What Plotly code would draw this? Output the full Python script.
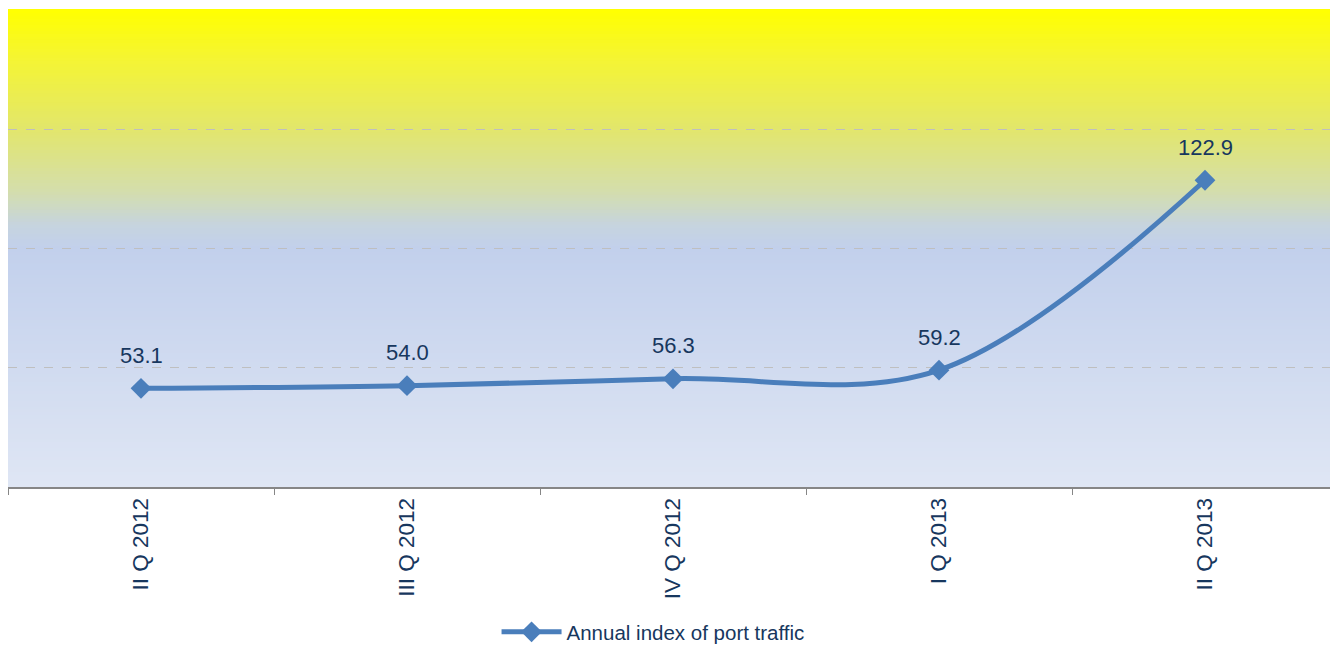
import plotly.graph_objects as go

categories = ["II Q 2012", "III Q 2012", "IV Q 2012", "I Q 2013", "II Q 2013"]
values = [53.1, 54.0, 56.3, 59.2, 122.9]
series_name = "Annual index of port traffic"

LINE = "#4A7EBB"
TEXT = "#17375E"
FONT = "Liberation Sans, Arial"

# background gradient stops (fraction of plot height from bottom, rgb)
stops = [
    (0.00, (223, 230, 244)),
    (0.50, (194, 208, 236)),
    (0.55, (198, 212, 222)),
    (0.62, (212, 222, 172)),
    (0.75, (226, 230, 108)),
    (0.90, (245, 245, 50)),
    (1.00, (255, 255, 0)),
]

def interp(f):
    for (a, ca), (b, cb) in zip(stops[:-1], stops[1:]):
        if a <= f <= b:
            t = (f - a) / (b - a) if b > a else 0
            return tuple(round(ca[i] + (cb[i] - ca[i]) * t) for i in range(3))
    return stops[-1][1]

shapes = []
n = 160
for i in range(n):
    y0 = i / n
    y1 = (i + 1) / n
    c = interp((y0 + y1) / 2)
    shapes.append(dict(type="rect", xref="paper", yref="paper", x0=0, x1=1,
                       y0=y0, y1=y1 + 0.002, fillcolor=f"rgb{c}",
                       line=dict(width=0), layer="below"))

fig = go.Figure()
fig.add_trace(go.Scatter(
    x=categories, y=values, name=series_name,
    mode="lines+markers",
    line=dict(color=LINE, width=5, shape="spline", smoothing=1.0),
    marker=dict(symbol="diamond", size=16, color=LINE),
))

annotations = []
for c, v in zip(categories, values):
    annotations.append(dict(x=c, y=v, text=f"{v:.1f}", showarrow=False,
                            yshift=33, font=dict(family=FONT, size=22, color=TEXT)))

fig.update_layout(
    width=1330, height=638,
    margin=dict(l=0, r=0, t=2, b=159, pad=0, autoexpand=False),
    paper_bgcolor="white",
    plot_bgcolor="rgba(0,0,0,0)",
    shapes=shapes,
    annotations=annotations,
    showlegend=True,
    legend=dict(orientation="h", xref="container", yref="container",
                x=0.485, xanchor="center", y=0.022, yanchor="middle",
                font=dict(family=FONT, size=20.5, color=TEXT), itemwidth=60),
    xaxis=dict(
        type="category", tickson="boundaries", ticks="outside", ticklen=6,
        tickcolor="#868686", showline=True, linecolor="#868686", linewidth=2,
        showgrid=False, tickangle=-90, automargin=False,
        tickfont=dict(family=FONT, size=22.5, color=TEXT),
        range=[-0.5, 4.5],
    ),
    yaxis=dict(
        range=[20, 180], tick0=20, dtick=40, showticklabels=False, showgrid=True,
        gridcolor="#BFBFBF", griddash="dash", gridwidth=1, zeroline=False,
        showline=False, automargin=False,
    ),
)

fig.write_html("out.html")
